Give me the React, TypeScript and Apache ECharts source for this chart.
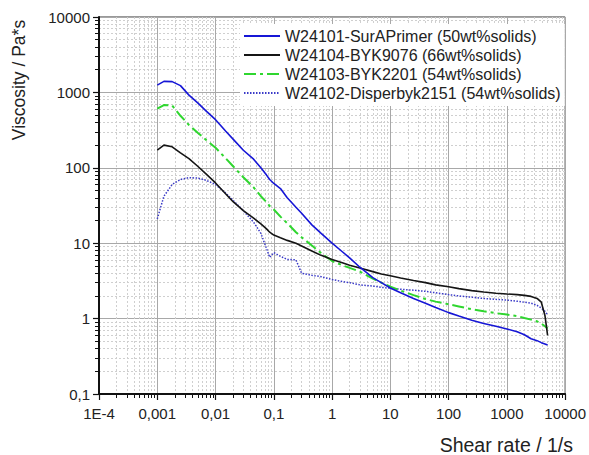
import React, { useEffect, useRef } from "react";
import * as echarts from "echarts";

const shearRate = [
  0.001, 0.0013, 0.0018, 0.0025, 0.0035, 0.005, 0.007, 0.01, 0.015, 0.02, 0.03,
  0.045, 0.06, 0.075, 0.085, 0.1, 0.13, 0.17, 0.24, 0.3, 0.45, 0.65, 1, 1.5, 2,
  3, 5, 7, 10, 15, 25, 40, 60, 100, 150, 250, 400, 650, 1000, 1500, 2000, 2600,
  3300, 3900, 4500, 5000,
];

const surAPrimer = [
  1250, 1400, 1390, 1230, 920, 720, 560, 435, 306, 240, 171, 130, 100, 80, 70,
  62, 53, 40, 30, 25, 17.5, 13.5, 10, 7.7, 6.4, 4.8, 3.5, 3.0, 2.55, 2.2, 1.85,
  1.6, 1.4, 1.2, 1.08, 0.95, 0.86, 0.79, 0.73, 0.67, 0.61, 0.54, 0.51, 0.48,
  0.46, 0.445,
];

const byk9076 = [
  172, 200, 190, 158, 132, 104, 82, 63, 45, 35.5, 27, 21.5, 18, 15.5, 14, 12.8,
  11.8, 10.9, 10, 9.2, 7.9, 6.9, 6.1, 5.5, 5.1, 4.7, 4.2, 3.9, 3.7, 3.45, 3.2,
  3.0, 2.8, 2.65, 2.5, 2.35, 2.25, 2.17, 2.12, 2.08, 2.03, 1.97, 1.85, 1.65,
  1.1, 0.6,
];

const byk2201 = [
  610, 680, 670, 490, 370, 290, 232, 185, 133, 105, 75, 55, 42, 35, 31, 28,
  22.5, 18.4, 14, 12, 9.3, 7.4, 5.8, 5.1, 4.7, 4.2, 3.4, 3.0, 2.65, 2.35, 2.05,
  1.82, 1.68, 1.55, 1.45, 1.33, 1.25, 1.18, 1.13, 1.08, 1.02, 0.97, 0.92, 0.86,
  0.79, 0.74,
];

const disperbyk2151 = [
  21, 42, 60, 70, 74, 73, 68, 60, 46, 37, 27, 19, 13.5, 8.5, 6.5, 7.5, 6.7,
  6.1, 6.0, 4.0, 3.75, 3.6, 3.3, 3.1, 3.0, 2.8, 2.7, 2.6, 2.52, 2.45, 2.38,
  2.3, 2.2, 2.08, 2.0, 1.92, 1.85, 1.8, 1.76, 1.7, 1.65, 1.6, 1.5, 1.38, 1.25,
  1.12,
];

const seriesNames = [
  "W24101-SurAPrimer (50wt%solids)",
  "W24104-BYK9076 (66wt%solids)",
  "W24103-BYK2201 (54wt%solids)",
  "W24102-Disperbyk2151 (54wt%solids)",
];

const xTickLabels = ["1E-4", "0,001", "0,01", "0,1", "1", "10", "100", "1000", "10000"];
const yTickLabels = ["0,1", "1", "10", "100", "1000", "10000"];

const FONT = "'Liberation Sans', Arial, sans-serif";

function pairs(values: number[]) {
  return shearRate.map((x, i) => [x, values[i]]);
}

export default function App() {
  const ref = useRef<HTMLDivElement>(null);

  useEffect(() => {
    if (!ref.current) return;
    const chart = echarts.init(ref.current, undefined, { renderer: "svg" });

    const axisCommon = {
      type: "log" as const,
      logBase: 10,
      axisLine: { show: true, lineStyle: { color: "#111", width: 2 } },
      axisTick: { show: true, length: 6, lineStyle: { color: "#111", width: 1.2 } },
      minorTick: { show: true, splitNumber: 9, length: 4, lineStyle: { color: "#111", width: 1 } },
      splitLine: { show: true, lineStyle: { color: "#a8a8a8", width: 1 } },
      minorSplitLine: { show: true, lineStyle: { color: "#cfcfcf", width: 1, type: [2, 2] } },
    };

    const option: any = {
      animation: false,
      backgroundColor: "#ffffff",
      grid: {
        left: 99,
        top: 17,
        right: 22,
        bottom: 61,
        show: true,
        borderColor: "#333",
        borderWidth: 1,
        backgroundColor: "transparent",
      },
      xAxis: {
        ...axisCommon,
        min: 0.0001,
        max: 10000,
        interval: 1,
        axisLabel: {
          fontFamily: FONT,
          fontSize: 15,
          color: "#222",
          margin: 12,
          formatter: (v: number) => xTickLabels[Math.round(Math.log10(v)) + 4] ?? "",
        },
      },
      yAxis: {
        ...axisCommon,
        min: 0.1,
        max: 10000,
        interval: 1,
        axisLabel: {
          fontFamily: FONT,
          fontSize: 15,
          color: "#222",
          margin: 9,
          formatter: (v: number) => yTickLabels[Math.round(Math.log10(v)) + 1] ?? "",
        },
      },
      legend: {
        show: true,
        orient: "vertical",
        left: 240,
        top: 24,
        padding: [4, 4, 5, 3],
        backgroundColor: "#ffffff",
        itemWidth: 36,
        itemHeight: 14,
        itemGap: 3,
        itemStyle: { opacity: 0 },
        textStyle: { fontFamily: FONT, fontSize: 16, lineHeight: 16, color: "#222" },
        data: seriesNames,
      },
      series: [
        {
          name: seriesNames[0],
          type: "line",
          data: pairs(surAPrimer),
          symbol: "none",
          lineStyle: { color: "#1616d6", width: 1.6, type: "solid" },
          itemStyle: { color: "#1616d6" },
          z: 5,
        },
        {
          name: seriesNames[1],
          type: "line",
          data: pairs(byk9076),
          symbol: "none",
          lineStyle: { color: "#151515", width: 1.6, type: "solid" },
          itemStyle: { color: "#151515" },
          z: 4,
        },
        {
          name: seriesNames[2],
          type: "line",
          data: pairs(byk2201),
          symbol: "none",
          lineStyle: { color: "#2fd62f", width: 2, type: [12, 4, 3, 4] },
          itemStyle: { color: "#2fd62f" },
          z: 3,
        },
        {
          name: seriesNames[3],
          type: "line",
          data: pairs(disperbyk2151),
          symbol: "none",
          lineStyle: { color: "#3a3ac8", width: 1.5, type: [1.5, 1.5] },
          itemStyle: { color: "#3a3ac8" },
          z: 2,
        },
      ],
      graphic: [
        {
          type: "text",
          x: 19,
          y: 80,
          rotation: Math.PI / 2,
          style: {
            text: "Viscosity / Pa*s",
            fontFamily: FONT,
            fontSize: 17.5,
            fill: "#222",
            align: "center",
            verticalAlign: "middle",
          },
        },
        {
          type: "text",
          x: 573,
          y: 445,
          style: {
            text: "Shear rate / 1/s",
            fontFamily: FONT,
            fontSize: 19.5,
            fill: "#222",
            align: "right",
            verticalAlign: "middle",
          },
        },
      ],
    };

    chart.setOption(option);
    return () => chart.dispose();
  }, []);

  return (
    <div
      ref={ref}
      style={{ position: "fixed", left: 0, top: 0, width: 589, height: 455, background: "#fff" }}
    />
  );
}
